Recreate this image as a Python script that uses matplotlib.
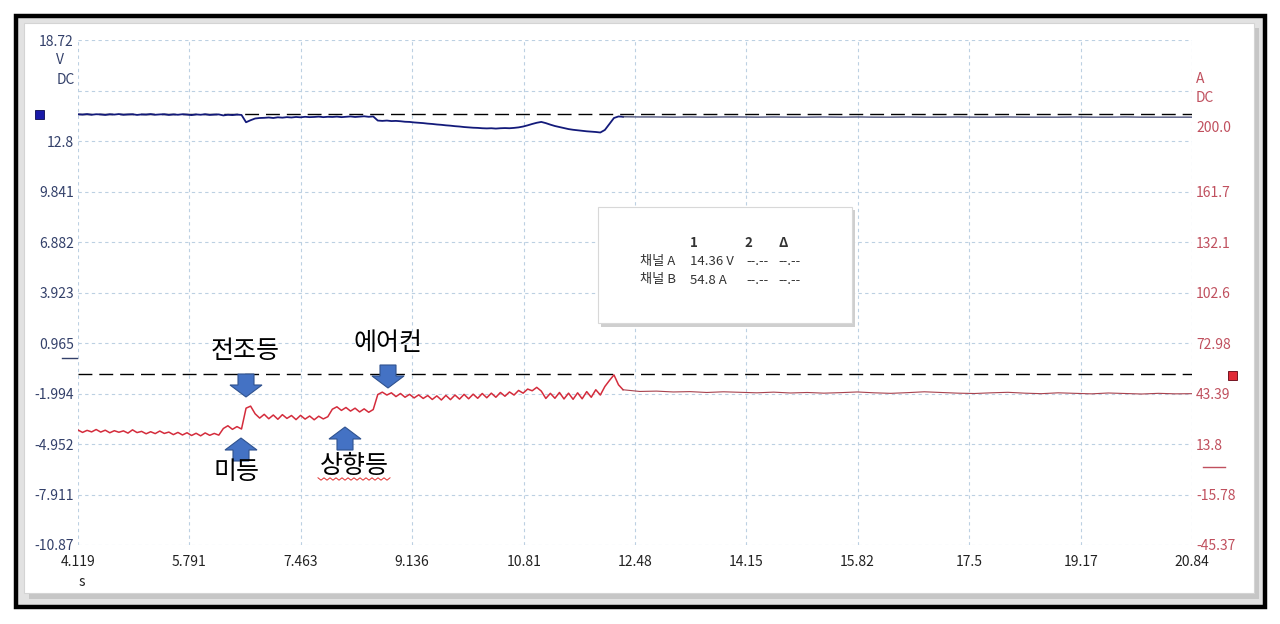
import numpy as np
import matplotlib
matplotlib.use('Agg')
import matplotlib.pyplot as plt
from matplotlib.patches import Rectangle, Polygon
from matplotlib.lines import Line2D

plt.rcParams['font.family'] = ['Noto Sans CJK KR', 'DejaVu Sans']

W, H = 1280, 624

# time axis
x_ticks = [4.119, 5.791, 7.463, 9.136, 10.81, 12.48, 14.15, 15.82, 17.5, 19.17, 20.84]
x_labels = ['4.119', '5.791', '7.463', '9.136', '10.81', '12.48', '14.15', '15.82', '17.5', '19.17', '20.84']

# channel A (voltage) axis
v_ticks = [18.72, 15.76, 12.8, 9.841, 6.882, 3.923, 0.965, -1.994, -4.952, -7.911, -10.87]
v_labels = ['18.72', '', '12.8', '9.841', '6.882', '3.923', '0.965', '-1.994', '-4.952', '-7.911', '-10.87']

# channel B (current) axis
a_ticks = [200.0, 161.7, 132.1, 102.6, 72.98, 43.39, 13.8, -15.78, -45.37]
a_labels = ['200.0', '161.7', '132.1', '102.6', '72.98', '43.39', '13.8', '-15.78', '-45.37']

# captured section 4.119 s .. 12.30 s (ripple part)
volt_a = [14.37, 14.35, 14.38, 14.34, 14.37, 14.36, 14.33, 14.37, 14.35, 14.38,
          14.34, 14.36, 14.37, 14.33, 14.36, 14.35, 14.38, 14.34, 14.36, 14.37,
          14.33, 14.36, 14.34, 14.37, 14.35, 14.32, 14.36, 14.34, 14.37, 14.33,
          14.35, 14.36, 14.30, 14.34, 14.32, 14.35, 14.33,
          13.90, 14.02, 14.12, 14.15,
          14.16, 14.18, 14.15, 14.19, 14.17, 14.20, 14.18, 14.21, 14.19, 14.22,
          14.20, 14.21, 14.23, 14.20, 14.22, 14.21, 14.23, 14.20, 14.22, 14.24,
          14.21, 14.23, 14.25, 14.22, 14.24,
          14.00, 13.98, 14.00, 13.97,
          13.98, 13.96, 13.93, 13.92, 13.89, 13.87, 13.85, 13.82, 13.80, 13.77,
          13.75, 13.72, 13.70, 13.67, 13.65, 13.62, 13.60, 13.58, 13.57, 13.55,
          13.54, 13.55, 13.53, 13.55, 13.56, 13.55, 13.57, 13.60, 13.65, 13.72,
          13.80, 13.87, 13.92, 13.85, 13.76, 13.68, 13.62, 13.56, 13.50, 13.46,
          13.43, 13.40, 13.37, 13.35, 13.33, 13.30, 13.45, 13.80, 14.15, 14.24, 14.22]

amp_a = [22.0, 20.6, 21.8, 20.9, 22.3, 20.8, 21.9, 20.4, 21.6, 20.7,
         21.5, 20.2, 22.1, 20.5, 21.2, 19.8, 21.0, 19.9, 21.4, 20.0,
         20.8, 19.3, 20.6, 19.1, 20.4, 18.8, 20.1, 18.6, 20.3, 18.9,
         20.0, 19.0, 22.9, 24.5, 22.4, 24.0, 22.6, 34.8, 36.0, 31.5, 29.0,
         31.2, 28.6, 30.8, 28.3, 31.0, 28.8, 30.5, 28.1, 30.6, 28.4, 30.2, 28.0, 30.1, 28.5,
         29.8, 34.2, 35.6, 33.5, 35.2, 33.1, 34.8, 32.6, 34.4, 32.4, 34.0,
         42.8, 44.2, 42.5, 43.8,
         41.6, 43.4, 41.2, 42.9, 40.8, 42.6, 40.5, 42.2, 39.9, 42.0,
         39.6, 42.3, 39.8, 42.5, 40.1, 42.9, 40.3, 43.0, 40.6, 43.4,
         40.9, 43.6, 41.2, 44.0, 41.8, 44.3, 42.5, 45.2, 43.6, 46.0,
         45.0, 47.0, 44.8, 40.5, 43.5, 40.6, 44.0, 40.2, 43.6, 40.0,
         43.8, 40.3, 44.5, 41.2, 45.6, 42.5, 47.5, 51.0, 54.3, 48.5, 45.6]

# section 12.30 s .. 20.84 s
volt_b = [14.22, 14.21, 14.21, 14.20, 14.21, 14.20, 14.21, 14.21, 14.20, 14.21,
          14.20, 14.20, 14.21, 14.20, 14.21, 14.20, 14.20, 14.21, 14.20, 14.20,
          14.21, 14.20, 14.20, 14.21, 14.20, 14.20, 14.20, 14.21, 14.20, 14.20,
          14.21, 14.20, 14.20, 14.20, 14.20]
amp_b = [45.6, 44.6, 44.8, 44.3, 44.5, 44.0, 44.4, 44.1, 43.8, 44.2,
         43.7, 44.0, 43.6, 43.9, 44.3, 43.8, 43.5, 43.9, 44.4, 44.0,
         43.6, 43.4, 43.8, 44.1, 43.6, 43.3, 43.8, 43.5, 43.2, 43.7,
         43.4, 43.1, 43.5, 43.2, 43.3]

cursor_v = 14.36
cursor_a = 54.8

t_va = np.linspace(4.119, 12.30, len(volt_a))
t_aa = np.linspace(4.119, 12.30, len(amp_a))
t_vb = np.linspace(12.30, 20.84, len(volt_b))
t_ab = np.linspace(12.30, 20.84, len(amp_b))


def fp(x, y):
    return (x / W, 1 - y / H)


def rect(x0, y0, x1, y1, **kw):
    return Rectangle(fp(x0, y1), (x1 - x0) / W, (y1 - y0) / H,
                     transform=fig.transFigure, **kw)


fig = plt.figure(figsize=(12.8, 6.24), dpi=100)
fig.patch.set_facecolor('white')

# screenshot frame
fig.add_artist(rect(16, 16, 1265, 607, facecolor='#e2e2e2', edgecolor='black', lw=3.2, zorder=-10))
fig.add_artist(rect(29, 28, 1259, 599, facecolor='#c6c6c6', edgecolor='none', zorder=-9))
fig.add_artist(rect(24, 23, 1254, 593, facecolor='white', edgecolor='#d4d4d4', lw=0.8, zorder=-8))

ax = fig.add_axes([78 / W, 1 - 545 / H, 1114 / W, 505 / H])
ax.patch.set_visible(False)
ax2 = ax.twinx()
ax2.patch.set_visible(False)

ax.set_xlim(4.119, 20.84)
ax.set_ylim(-10.87, 18.72)
ax2.set_ylim(-45.37, 250.53)

for a in (ax, ax2):
    for s in a.spines.values():
        s.set_visible(False)

ax.set_xticks(x_ticks)
ax.set_xticklabels(x_labels)
ax.set_yticks(v_ticks)
ax.set_yticklabels(v_labels)
ax2.set_yticks(a_ticks)
ax2.set_yticklabels(a_labels)
ax.tick_params(axis='x', length=0, pad=7, labelsize=10, labelcolor='#222222')
ax.tick_params(axis='y', length=0, pad=3, labelsize=10, labelcolor='#33406a')
ax2.tick_params(axis='y', length=0, pad=3, labelsize=10, labelcolor='#c0505e')

ax.grid(True, color='#bcd0e2', linestyle=(0, (3, 3)), linewidth=0.8)
ax.set_axisbelow(True)

# cursor level lines
ax.axhline(cursor_v, color='black', lw=1.0, dashes=(10, 5), zorder=2)
ax2.axhline(cursor_a, color='black', lw=1.0, dashes=(10, 5), zorder=2)

# traces
ax.plot(t_va, volt_a, color='#131a7a', lw=1.3, zorder=3)
ax.plot(t_vb, volt_b, color='#3c4270', lw=0.9, zorder=3)
ax2.plot(t_aa, amp_a, color='#d42c3c', lw=1.1, zorder=3)
ax2.plot(t_ab, amp_b, color='#a8424e', lw=0.8, zorder=3)

# axis unit labels
fig.text(*fp(60, 60), 'V', ha='center', va='center', fontsize=10, color='#33406a')
fig.text(*fp(75, 80), 'DC', ha='right', va='center', fontsize=10, color='#33406a')
fig.text(*fp(1196, 79), 'A', ha='left', va='center', fontsize=10, color='#c0505e')
fig.text(*fp(1196, 98), 'DC', ha='left', va='center', fontsize=10, color='#c0505e')
fig.text(*fp(82, 582), 's', ha='center', va='center', fontsize=10, color='#222222')

# channel markers and zero marks
fig.add_artist(rect(35, 110, 44, 119, facecolor='#1a1aa8', edgecolor='#0a0a50', lw=0.6, zorder=5))
fig.add_artist(rect(1228, 371, 1237, 380, facecolor='#e02a36', edgecolor='#600010', lw=0.6, zorder=5))
fig.add_artist(Line2D([62 / W, 77 / W], [1 - 358 / H] * 2, color='#33406a', lw=1.0,
                      transform=fig.transFigure))
fig.add_artist(Line2D([1203 / W, 1225 / W], [1 - 467 / H] * 2, color='#c0505e', lw=1.0,
                      transform=fig.transFigure))

# cursor readout box
fig.add_artist(rect(601, 210, 855, 327, facecolor='#cfcfcf', edgecolor='none', zorder=5))
fig.add_artist(rect(598, 207, 852, 323, facecolor='white', edgecolor='#d8d8d8', lw=0.8, zorder=6))
box_kw = dict(fontsize=9.5, color='#333333', va='center', zorder=7)
fig.text(*fp(694, 243), '1', ha='center', fontweight='bold', **box_kw)
fig.text(*fp(748, 243), '2', ha='center', fontweight='bold', **box_kw)
fig.text(*fp(783, 243), 'Δ', ha='center', fontweight='bold', **box_kw)
rows = [('채널 A', '14.36 V', 261), ('채널 B', '54.8 A', 280)]
for name, val, yy in rows:
    fig.text(*fp(640, yy), name, ha='left', **box_kw)
    fig.text(*fp(690, yy), val, ha='left', **box_kw)
    fig.text(*fp(746, yy), '--.--', ha='left', **box_kw)
    fig.text(*fp(778, yy), '--.--', ha='left', **box_kw)


def block_arrow(cx, tip, down):
    s = 1 if down else -1
    base = tip - s * 12
    top = tip - s * 23
    pts = [(cx - 8, top), (cx + 8, top), (cx + 8, base), (cx + 16, base),
           (cx, tip), (cx - 16, base), (cx - 8, base)]
    fig.add_artist(Polygon([fp(x, y) for x, y in pts], closed=True,
                           facecolor='#4472c4', edgecolor='#2f528f', lw=0.8,
                           transform=fig.transFigure, zorder=8))


labels = [('전조등', 245, 351, 246, 397, True),
          ('미등', 237, 472, 241, 438, False),
          ('상향등', 354, 466, 345, 427, False),
          ('에어컨', 388, 343, 388, 388, True)]
for txt, tx, ty, ax_x, tip, down in labels:
    fig.text(*fp(tx, ty), txt, ha='center', va='center', fontsize=18, color='black', zorder=8)
    block_arrow(ax_x, tip, down)

# spell-check squiggle under 상향등
wx = np.arange(318, 393, 3)
wy = 479 + np.where(np.arange(len(wx)) % 2 == 0, -1.2, 1.2)
fig.add_artist(Line2D(wx / W, 1 - wy / H, color='#e03030', lw=0.7, transform=fig.transFigure))

fig.savefig('out.png', dpi=100)
